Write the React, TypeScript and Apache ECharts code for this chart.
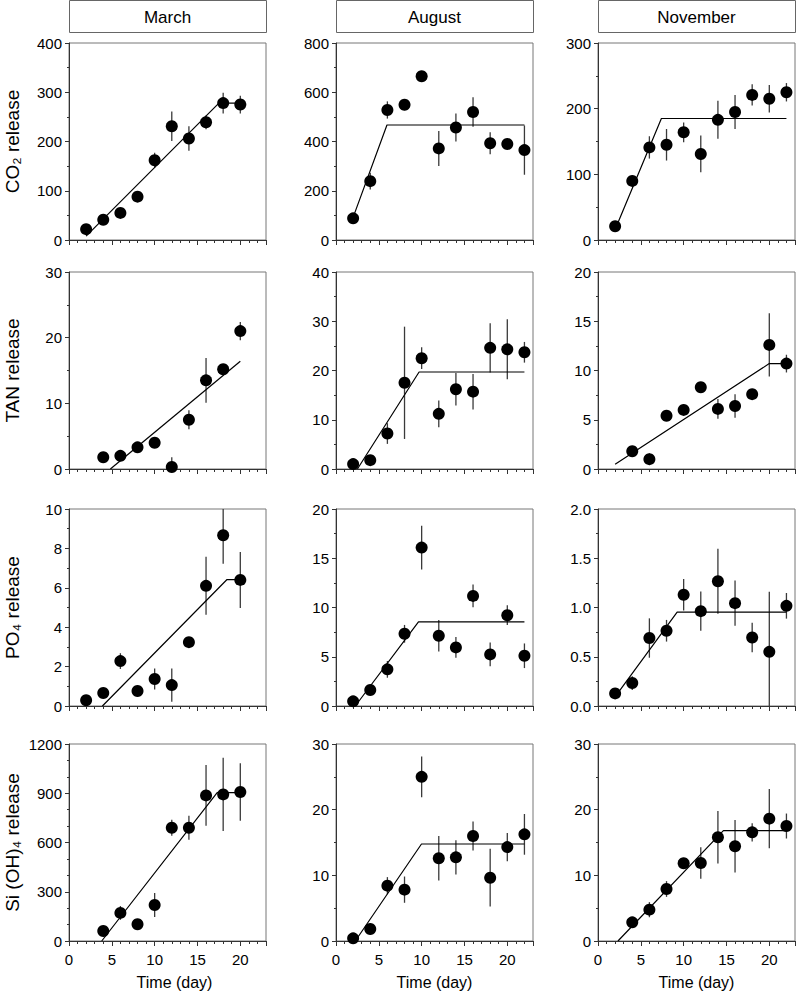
import React, { useEffect, useRef } from "react";
import * as echarts from "echarts";

// ---------- labels ----------
const months = ["March", "August", "November"];
const yTitles = ["CO\u2082 release", "TAN release", "PO\u2084 release", "Si (OH)\u2084 release"];
const xTitle = "Time (day)";

// ---------- sampling days ----------
const marchDays = [2, 4, 6, 8, 10, 12, 14, 16, 18, 20];
const lateDays = [2, 4, 6, 8, 10, 12, 14, 16, 18, 20, 22];

// ---------- CO2 ----------
const co2MarchY = [22, 41, 55, 88, 162, 231, 206, 239, 278, 275];
const co2MarchErr = [5, 6, 6, 6, 15, 30, 25, 14, 21, 18];
const co2MarchFitX = [2, 17.5, 20];
const co2MarchFitY = [8, 278, 278];

const co2AugY = [88, 239, 528, 549, 665, 372, 457, 520, 393, 390, 365];
const co2AugErr = [10, 34, 35, 22, 20, 71, 57, 60, 45, 10, 100];
const co2AugFitX = [2.05, 5.95, 22];
const co2AugFitY = [97, 467, 467];

const co2NovY = [21, 90, 141, 145, 164, 131, 183, 195, 221, 215, 225];
const co2NovErr = [5, 8, 17, 24, 15, 28, 29, 26, 16, 21, 14];
const co2NovFitX = [2, 7.4, 22];
const co2NovFitY = [16, 185, 185];

// ---------- TAN ----------
const tanMarchY = [null, 1.8, 2.0, 3.3, 4.0, 0.3, 7.5, 13.5, 15.2, 21.0];
const tanMarchErr = [0, 0.3, 0.6, 0.3, 0.3, 1.5, 1.45, 3.4, 0.7, 1.4];
const tanMarchFitX = [4.83, 20];
const tanMarchFitY = [0, 16.4];

const tanAugY = [1.0, 1.8, 7.2, 17.5, 22.5, 11.2, 16.2, 15.7, 24.6, 24.3, 23.7];
const tanAugErr = [0.3, 0.3, 2.1, 11.4, 2.2, 2.7, 3.3, 3.6, 5.0, 6.1, 2.1];
const tanAugFitX = [2.5, 9.7, 22];
const tanAugFitY = [0, 19.7, 19.7];

const tanNovY = [null, 1.8, 1.0, 5.4, 6.0, 8.3, 6.1, 6.4, 7.6, 12.6, 10.7];
const tanNovErr = [0, 0.2, 0.6, 0.2, 0.2, 0.5, 1.0, 1.2, 0.2, 3.2, 0.9];
const tanNovFitX = [2, 20, 22];
const tanNovFitY = [0.47, 10.7, 10.7];

// ---------- PO4 ----------
const po4MarchY = [0.29, 0.66, 2.28, 0.76, 1.37, 1.06, 3.24, 6.1, 8.67, 6.4];
const po4MarchErr = [0.05, 0.05, 0.4, 0.05, 0.53, 0.84, 0.1, 1.47, 1.45, 1.42];
const po4MarchFitX = [3.9, 18.45, 20];
const po4MarchFitY = [0, 6.42, 6.42];

const po4AugY = [0.47, 1.62, 3.72, 7.33, 16.08, 7.13, 5.95, 11.18, 5.24, 9.22, 5.1];
const po4AugErr = [0.1, 0.2, 0.85, 0.9, 2.23, 1.6, 1.05, 1.15, 1.2, 1.0, 1.25];
const po4AugFitX = [2.25, 9.63, 22];
const po4AugFitY = [0, 8.55, 8.55];

const po4NovY = [0.128, 0.233, 0.69, 0.764, 1.13, 0.963, 1.267, 1.044, 0.696, 0.55, 1.017];
const po4NovErr = [0.02, 0.07, 0.2, 0.11, 0.16, 0.2, 0.33, 0.23, 0.15, 0.61, 0.13];
const po4NovFitX = [2.14, 9.24, 22];
const po4NovFitY = [0.11, 0.953, 0.953];

// ---------- Si(OH)4 ----------
const siMarchY = [null, 61, 171, 102, 219, 690, 690, 887, 893, 908];
const siMarchErr = [0, 10, 42, 10, 73, 49, 73, 185, 223, 175];
const siMarchFitX = [3.82, 17.3, 20];
const siMarchFitY = [0, 904, 904];

const siAugY = [0.4, 1.83, 8.43, 7.82, 25.0, 12.6, 12.74, 16.0, 9.64, 14.3, 16.24];
const siAugErr = [0.2, 0.85, 1.3, 2.0, 3.1, 3.4, 2.6, 2.2, 4.4, 2.15, 3.1];
const siAugFitX = [2.25, 9.98, 22];
const siAugFitY = [0, 14.77, 14.77];

const siNovY = [null, 2.84, 4.77, 7.92, 11.83, 11.88, 15.8, 14.42, 16.55, 18.63, 17.51];
const siNovErr = [0, 0.3, 1.15, 1.2, 0.3, 2.4, 4.0, 4.0, 1.4, 4.5, 1.9];
const siNovFitX = [2.33, 14.64, 22];
const siNovFitY = [0, 16.8, 16.8];

// ---------- axis scales (row-major: CO2, TAN, PO4, Si × March, Aug, Nov) ----------
const yMax = [400, 800, 300, 30, 40, 20, 10, 20, 2, 1200, 30, 30];
const yInterval = [100, 200, 100, 10, 10, 5, 2, 5, 0.5, 300, 10, 10];
const yMinorSplit = [2, 2, 2, 2, 2, 2, 2, 2, 2, 3, 2, 2];
const yDecimals = [0, 0, 0, 0, 0, 0, 0, 0, 1, 0, 0, 0];
const xMax = 23;
const xInterval = 5;

type Panel = { days: number[]; y: (number | null)[]; err: number[]; fitX: number[]; fitY: number[] };

const panels: Panel[] = [
  { days: marchDays, y: co2MarchY, err: co2MarchErr, fitX: co2MarchFitX, fitY: co2MarchFitY },
  { days: lateDays, y: co2AugY, err: co2AugErr, fitX: co2AugFitX, fitY: co2AugFitY },
  { days: lateDays, y: co2NovY, err: co2NovErr, fitX: co2NovFitX, fitY: co2NovFitY },
  { days: marchDays, y: tanMarchY, err: tanMarchErr, fitX: tanMarchFitX, fitY: tanMarchFitY },
  { days: lateDays, y: tanAugY, err: tanAugErr, fitX: tanAugFitX, fitY: tanAugFitY },
  { days: lateDays, y: tanNovY, err: tanNovErr, fitX: tanNovFitX, fitY: tanNovFitY },
  { days: marchDays, y: po4MarchY, err: po4MarchErr, fitX: po4MarchFitX, fitY: po4MarchFitY },
  { days: lateDays, y: po4AugY, err: po4AugErr, fitX: po4AugFitX, fitY: po4AugFitY },
  { days: lateDays, y: po4NovY, err: po4NovErr, fitX: po4NovFitX, fitY: po4NovFitY },
  { days: marchDays, y: siMarchY, err: siMarchErr, fitX: siMarchFitX, fitY: siMarchFitY },
  { days: lateDays, y: siAugY, err: siAugErr, fitX: siAugFitX, fitY: siAugFitY },
  { days: lateDays, y: siNovY, err: siNovErr, fitX: siNovFitX, fitY: siNovFitY },
];

// ---------- layout ----------
const GRID_LEFT = [69, 336, 598];
const GRID_TOP = [43, 272, 509, 744];
const SIZE = 197;
const FONT = '"Liberation Sans", Arial, sans-serif';

function buildOption() {
  const grid: any[] = [];
  const xAxis: any[] = [];
  const yAxis: any[] = [];
  const series: any[] = [];

  panels.forEach((p, i) => {
    const r = Math.floor(i / 3);
    const c = i % 3;
    const lastRow = r === 3;
    grid.push({
      left: GRID_LEFT[c],
      top: GRID_TOP[r],
      width: SIZE,
      height: SIZE,
      show: true,
      borderColor: "#777",
      borderWidth: 1,
      backgroundColor: "transparent",
    });
    xAxis.push({
      type: "value",
      gridIndex: i,
      min: 0,
      max: xMax,
      interval: xInterval,
      axisLine: { show: true, onZero: false, lineStyle: { color: "#333", width: 1 } },
      axisTick: { show: true, inside: false, length: 5, lineStyle: { color: "#333" } },
      minorTick: { show: true, splitNumber: 5, length: 3, lineStyle: { color: "#333" } },
      splitLine: { show: false },
      axisLabel: {
        show: lastRow,
        margin: 11,
        fontSize: 15,
        fontFamily: FONT,
        color: "#000",
        showMaxLabel: false,
      },
      name: lastRow ? xTitle : "",
      nameLocation: "middle",
      nameGap: 33,
      nameTextStyle: {
        fontSize: 16,
        fontFamily: FONT,
        color: "#000",
        padding: c === 0 ? [0, 0, 0, 14] : 0,
      },
    });
    yAxis.push({
      type: "value",
      gridIndex: i,
      min: 0,
      max: yMax[i],
      interval: yInterval[i],
      axisLine: { show: true, onZero: false, lineStyle: { color: "#333", width: 1 } },
      axisTick: { show: true, inside: false, length: 4, lineStyle: { color: "#333" } },
      minorTick: { show: true, splitNumber: yMinorSplit[i], length: 2, lineStyle: { color: "#333" } },
      splitLine: { show: false },
      axisLabel: {
        margin: 7,
        fontSize: 15,
        fontFamily: FONT,
        color: "#000",
        formatter: (v: number) => v.toFixed(yDecimals[i]),
      },
      name: c === 0 ? yTitles[r] : "",
      nameLocation: "middle",
      nameRotate: 90,
      nameGap: 47,
      nameTextStyle: { fontSize: 19, fontFamily: FONT, color: "#000" },
    });

    const pts: number[][] = [];
    p.days.forEach((d, k) => {
      const v = p.y[k];
      if (v !== null && v !== undefined) pts.push([d, v, p.err[k]]);
    });

    series.push({
      type: "custom",
      xAxisIndex: i,
      yAxisIndex: i,
      data: pts,
      encode: { x: 0, y: 1 },
      z: 1,
      silent: true,
      renderItem: (params: any, api: any) => {
        const x = api.value(0);
        const y = api.value(1);
        const e = api.value(2);
        const top = api.coord([x, y + e]);
        const bot = api.coord([x, y - e]);
        const cs = params.coordSys;
        const y1 = Math.max(top[1], cs.y);
        const y2 = Math.min(bot[1], cs.y + cs.height);
        return {
          type: "line",
          shape: { x1: top[0], y1, x2: top[0], y2 },
          style: { stroke: "#3a3a3a", lineWidth: 1.3 },
        };
      },
    });
    series.push({
      type: "line",
      xAxisIndex: i,
      yAxisIndex: i,
      data: p.fitX.map((x, k) => [x, p.fitY[k]]),
      symbol: "none",
      showSymbol: false,
      lineStyle: { color: "#000", width: 1.2 },
      z: 2,
      silent: true,
    });
    series.push({
      type: "scatter",
      xAxisIndex: i,
      yAxisIndex: i,
      data: pts.map((q) => [q[0], q[1]]),
      symbol: "circle",
      symbolSize: 12,
      itemStyle: { color: "#000", opacity: 1 },
      z: 3,
      silent: true,
    });
  });

  const graphic = months.map((m, c) => ({
    type: "group",
    x: GRID_LEFT[c],
    y: 0,
    children: [
      {
        type: "rect",
        shape: { x: 0.5, y: 0.5, width: SIZE, height: 32 },
        style: { fill: "#fff", stroke: "#666", lineWidth: 1 },
      },
      {
        type: "text",
        x: SIZE / 2,
        y: 17,
        style: {
          text: m,
          fontSize: 17,
          fontFamily: FONT,
          fill: "#000",
          align: "center",
          verticalAlign: "middle",
        },
      },
    ],
  }));

  return {
    animation: false,
    backgroundColor: "#fff",
    grid,
    xAxis,
    yAxis,
    series,
    graphic,
  };
}

export default function App() {
  const ref = useRef<HTMLDivElement>(null);
  useEffect(() => {
    if (!ref.current) return;
    const chart = echarts.init(ref.current, null, { renderer: "svg" });
    chart.setOption(buildOption() as any);
    return () => chart.dispose();
  }, []);
  return (
    <div
      ref={ref}
      style={{ position: "absolute", left: 0, top: 0, width: 798, height: 993 }}
    />
  );
}
